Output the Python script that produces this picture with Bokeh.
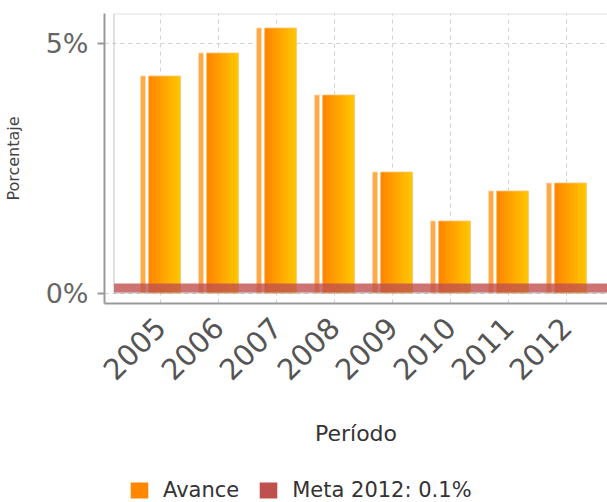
import math
from bokeh.plotting import figure
from bokeh.layouts import column
from bokeh.models import (ColumnDataSource, Range1d, FixedTicker, BoxAnnotation,
                          Legend, LegendItem)
from bokeh.transform import dodge
from bokeh.embed import file_html
from bokeh.resources import INLINE

# ---- data ----
years = [2005, 2006, 2007, 2008, 2009, 2010, 2011, 2012]
year_labels = ["2005", "2006", "2007", "2008", "2009", "2010", "2011", "2012"]
avance = [4.34, 4.80, 5.30, 3.96, 2.42, 1.44, 2.04, 2.20]
meta_value = 0.1
meta_label = "Meta 2012: 0.1%"
avance_label = "Avance"
y_ticks = [0, 5]
y_tick_labels = ["0%", "5%"]

FONT = "DejaVu Sans"
PX = 58.0  # pixels per category (used only for style offsets)
AVANCE_DARK = "#ff8800"
META_COLOR = "#c0504d"

source = ColumnDataSource(data=dict(year=years, avance=avance))

x_start = years[0] - 56.0 / PX
x_end = years[0] + 447.0 / PX
inner_left = x_start + 9.5 / PX

p = figure(width=607, height=462, output_backend="svg", toolbar_location=None,
           x_range=Range1d(x_start, x_end), y_range=Range1d(-0.21, 5.59),
           min_border_left=104, min_border_right=0, min_border_top=13,
           min_border_bottom=159)
p.outline_line_color = None
p.background_fill_color = "white"
p.border_fill_color = "white"

# grid
p.xgrid.ticker = FixedTicker(ticks=years)
p.ygrid.ticker = FixedTicker(ticks=y_ticks)
for g in (p.xgrid, p.ygrid):
    g.grid_line_color = "#d0d0d0"
    g.grid_line_dash = "4 4"
    g.grid_line_width = 1

# sliver (light) to the left of each bar
p.vbar(x=dodge("year", -17.5 / PX, range=p.x_range), top="avance", bottom=0,
       width=5.0 / PX, source=source, fill_color="#ffaa4a", line_color="#ffd9a8",
       line_width=0.8)

# main bar with horizontal gradient built from vertical strips
n_strips = 8
strip_w = 32.0 / n_strips
c0 = (255, 136, 0)
c1 = (255, 196, 0)
for i in range(n_strips):
    t = i / (n_strips - 1)
    col = "#%02x%02x%02x" % tuple(int(round(a + (b - a) * t)) for a, b in zip(c0, c1))
    off = (-12.0 + strip_w * (i + 0.5)) / PX
    extra = 1.2 if i < n_strips - 1 else 0.0
    p.vbar(x=dodge("year", off + extra / 2 / PX, range=p.x_range), top="avance",
           bottom=0, width=(strip_w + extra) / PX, source=source,
           fill_color=col, line_color=None)
# thin light edges of main bar
p.vbar(x=dodge("year", 4.0 / PX, range=p.x_range), top="avance", bottom=0,
       width=32.0 / PX, source=source, fill_color=None, line_color="#ffc27a",
       line_width=0.8)

# meta band
p.hbar(y=[meta_value], height=0.18, left=inner_left, right=x_end + 1,
       fill_color=META_COLOR, fill_alpha=0.8, line_color=None)

# inner plot frame
inner = BoxAnnotation(left=inner_left, bottom=0, right=x_end + 1,
                      fill_alpha=0, fill_color=None, line_color="#999999",
                      line_width=2)
p.add_layout(inner)

# axes
p.yaxis.ticker = FixedTicker(ticks=y_ticks)
p.yaxis.major_label_overrides = {t: l for t, l in zip(y_ticks, y_tick_labels)}
p.yaxis.axis_label = "Porcentaje"
p.yaxis.axis_label_text_font = FONT
p.yaxis.axis_label_text_font_size = "16px"
p.yaxis.axis_label_text_font_style = "normal"
p.yaxis.axis_label_text_color = "#444444"
p.yaxis.axis_label_standoff = 20
p.yaxis.major_label_text_font = FONT
p.yaxis.major_label_text_font_size = "27px"
p.yaxis.major_label_text_color = "#666666"
p.yaxis.major_label_standoff = 9
p.yaxis.axis_line_color = "#999999"
p.yaxis.axis_line_width = 2
p.yaxis.major_tick_line_color = "#999999"
p.yaxis.major_tick_line_width = 2
p.yaxis.major_tick_out = 7
p.yaxis.major_tick_in = 0
p.yaxis.minor_tick_line_color = None

p.xaxis.ticker = FixedTicker(ticks=years)
p.xaxis.major_label_overrides = {y: l for y, l in zip(years, year_labels)}
p.xaxis.major_label_orientation = math.pi / 4
p.xaxis.major_label_text_font = FONT
p.xaxis.major_label_text_font_size = "29px"
p.xaxis.major_label_text_color = "#555555"
p.xaxis.major_label_standoff = 13
p.xaxis.axis_label = "Período"
p.xaxis.axis_label_text_font = FONT
p.xaxis.axis_label_text_font_size = "22px"
p.xaxis.axis_label_text_font_style = "normal"
p.xaxis.axis_label_text_color = "#333333"
p.xaxis.axis_label_standoff = 28
p.xaxis.axis_line_color = "#999999"
p.xaxis.axis_line_width = 2
p.xaxis.major_tick_line_color = None
p.xaxis.minor_tick_line_color = None

# ---- legend strip (separate small figure under the chart) ----
pl = figure(width=607, height=40, output_backend="svg", toolbar_location=None,
            x_range=Range1d(x_start, x_end), y_range=Range1d(100, 200),
            min_border_left=0, min_border_right=0, min_border_top=0,
            min_border_bottom=0)
pl.axis.visible = False
pl.grid.visible = False
pl.outline_line_color = None
pl.border_fill_color = "white"
pl.background_fill_color = "white"
r_av = pl.vbar(x="year", top="avance", bottom=0, width=0.5, source=source,
               fill_color=AVANCE_DARK, line_color=None)
r_meta = pl.hbar(y=[meta_value], height=0.18, left=x_start, right=x_end,
                 fill_color=META_COLOR, line_color=None)
legend = Legend(items=[LegendItem(label=avance_label, renderers=[r_av]),
                       LegendItem(label=meta_label, renderers=[r_meta])],
                orientation="horizontal", location=(24, 0))
legend.label_text_font = FONT
legend.label_text_font_size = "21px"
legend.label_text_color = "#333333"
legend.glyph_width = 22
legend.glyph_height = 20
legend.label_standoff = 13
legend.spacing = 18
legend.border_line_color = None
legend.background_fill_alpha = 0
legend.margin = 0
legend.padding = 0
pl.add_layout(legend, "center")

layout = column(p, pl, spacing=0)
open("out.html", "w").write(file_html(layout, INLINE))
